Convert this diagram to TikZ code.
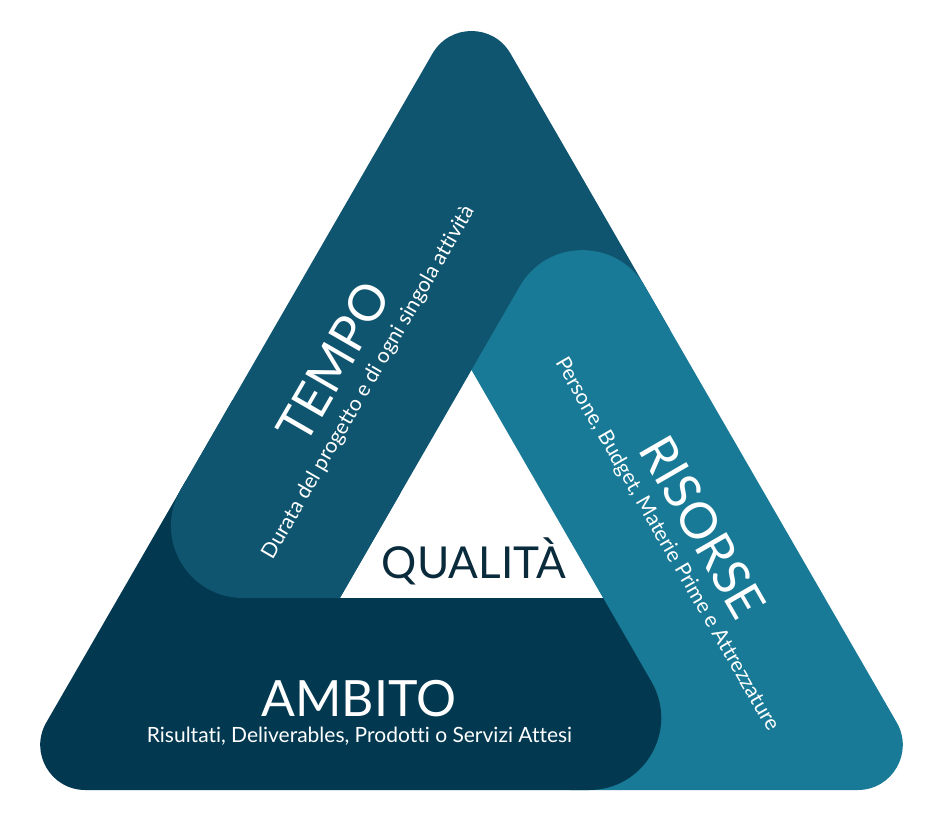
\documentclass[tikz,border=0pt]{standalone}
\usepackage{fontspec}
\setmainfont{Lato}[Ligatures=CommonOff]
\usetikzlibrary{calc}
\definecolor{tempoC}{HTML}{10556F}
\definecolor{risorseC}{HTML}{187A96}
\definecolor{ambitoC}{HTML}{023951}
\definecolor{qualC}{HTML}{0A2B3C}
\begin{document}
\begin{tikzpicture}[x=1pt,y=-1pt,
  lbl/.style={inner sep=0pt, anchor=base, text=white},
  bigtitle/.style={lbl, font=\fontsize{50}{50}\selectfont},
  subtitle/.style={lbl, font=\fontsize{21}{21}\selectfont},
  qualtitle/.style={inner sep=0pt, anchor=base, text=qualC, font=\fontsize{44}{44}\selectfont}]
\useasboundingbox (0,0) rectangle (930,830);
% geometry
\coordinate (A) at (471.5,-14);
\coordinate (BL) at (7.3,790);
\coordinate (BR) at (935.7,790);
\coordinate (I1) at (471.5,370);
\coordinate (I2) at (339.9,598);
\coordinate (I3) at (603.1,598);
\coordinate (TL) at (118.2,598);
\coordinate (TR) at (582.35,178);
\coordinate (BM) at (714,790);
\coordinate (P1) at (670.1,330);
\coordinate (Q1) at (570,790);
\coordinate (U1) at (186.3,480);
\coordinate (U2) at (300,480);
\coordinate (U3) at (300,598);
% TEMPO band
\fill[tempoC] (I2) -- (I1) -- (P1)
  -- ($(A)!78pt!(P1)$) .. controls ($(A)!43.3pt!(P1)$) and ($(A)!43.3pt!(TL)$) .. ($(A)!78pt!(TL)$)
  -- ($(TL)!125pt!(A)$) .. controls ($(TL)!69.4pt!(A)$) and ($(TL)!69.4pt!(I2)$) .. ($(TL)!125pt!(I2)$)
  -- cycle;
% RISORSE band
\fill[risorseC] (I3) -- (I1)
  -- ($(TR)!125pt!(I1)$) .. controls ($(TR)!69.4pt!(I1)$) and ($(TR)!69.4pt!(BR)$) .. ($(TR)!125pt!(BR)$)
  -- ($(BR)!78pt!(TR)$) .. controls ($(BR)!43.3pt!(TR)$) and ($(BR)!43.3pt!(Q1)$) .. ($(BR)!78pt!(Q1)$)
  -- (Q1) -- cycle;
% AMBITO band
\fill[ambitoC] (U3) -- (I3)
  -- ($(BM)!125pt!(I3)$) .. controls ($(BM)!69.4pt!(I3)$) and ($(BM)!69.4pt!(BL)$) .. ($(BM)!125pt!(BL)$)
  -- ($(BL)!78pt!(BM)$) .. controls ($(BL)!43.3pt!(BM)$) and ($(BL)!43.3pt!(U1)$) .. ($(BL)!78pt!(U1)$)
  -- (U1) -- (U2) -- cycle;
% TEMPO lower end over AMBITO
\begin{scope}
  \clip (0,400) rectangle (400,830);
  \fill[tempoC] (I2) -- (I1) -- (P1)
    -- ($(A)!78pt!(P1)$) .. controls ($(A)!43.3pt!(P1)$) and ($(A)!43.3pt!(TL)$) .. ($(A)!78pt!(TL)$)
    -- ($(TL)!125pt!(A)$) .. controls ($(TL)!69.4pt!(A)$) and ($(TL)!69.4pt!(I2)$) .. ($(TL)!125pt!(I2)$)
    -- cycle;
\end{scope}
% texts
\node[qualtitle] (qual) at (474,578.3) {QUALITÀ};
\node[bigtitle] (ambito) at (358.8,716.7) {AMBITO};
\node[subtitle] (ambitosub) at (359.5,742.7) {Risultati, Deliverables, Prodotti o Servizi Attesi};
\node[bigtitle, rotate=60] (tempo) at (349,371) {TEMPO};
\node[subtitle, rotate=60] (temposub) at (373.6,385.5) {Durata del progetto e di ogni singola attività};
\node[bigtitle, rotate=-60] (risorse) at (687.4,536) {RISORSE};
\node[subtitle, rotate=-60] (risorsesub) at (661.8,547.3) {Persone, Budget, Materie Prime e Attrezzature};
\end{tikzpicture}
\end{document}
